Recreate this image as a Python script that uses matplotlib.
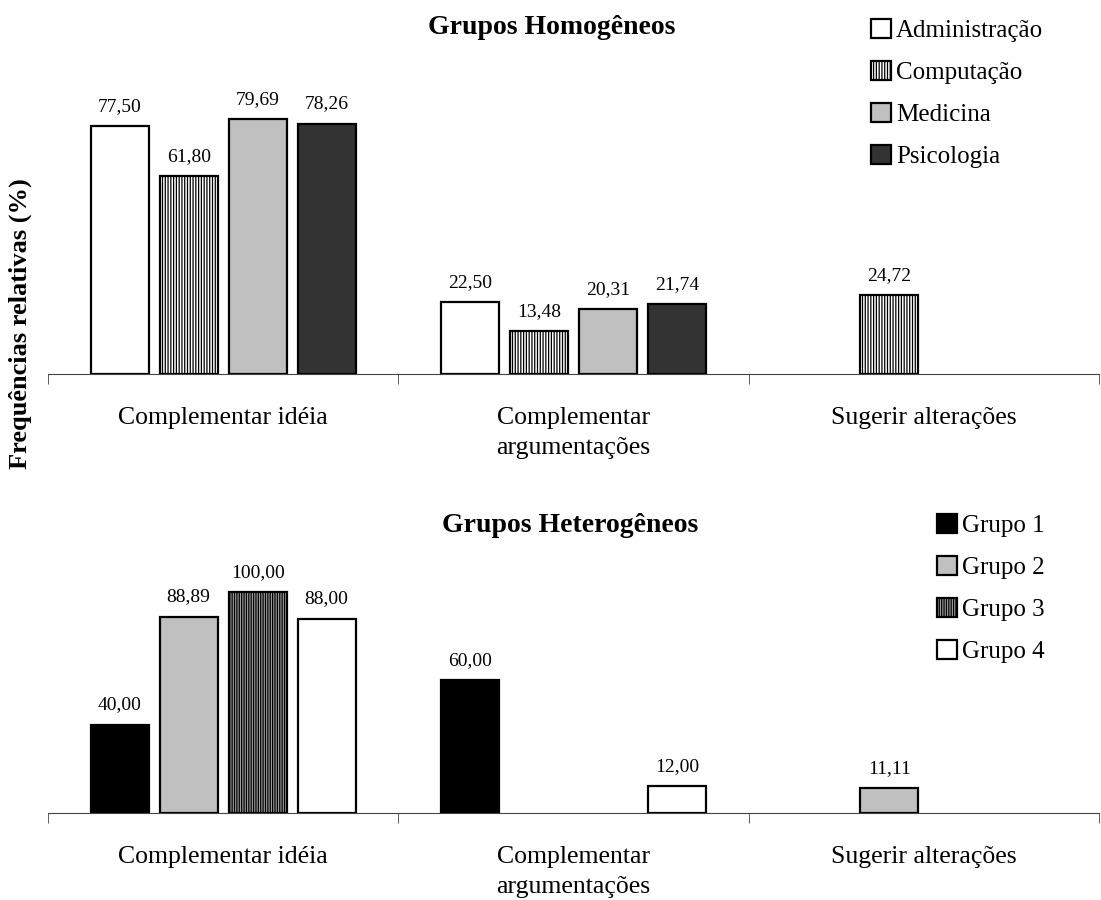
import numpy as np
import matplotlib.pyplot as plt

plt.rcParams['font.family'] = ['Liberation Serif', 'DejaVu Serif']
plt.rcParams['hatch.linewidth'] = 0.9

categorias = ['Complementar idéia', 'Complementar\nargumentações', 'Sugerir alterações']

# grupos homogeneos (por curso)
cursos = ['Administração', 'Computação', 'Medicina', 'Psicologia']
homog = [[77.50, 22.50, 0.0],
         [61.80, 13.48, 24.72],
         [79.69, 20.31, 0.0],
         [78.26, 21.74, 0.0]]

# grupos heterogeneos
grupos = ['Grupo 1', 'Grupo 2', 'Grupo 3', 'Grupo 4']
heterog = [[40.00, 60.00, 0.0],
           [88.89, 0.0, 11.11],
           [100.00, 0.0, 0.0],
           [88.00, 12.00, 0.0]]

estilo_homog = [dict(facecolor='white'),
                dict(facecolor='white', hatch='||||||'),
                dict(facecolor='#c0c0c0'),
                dict(facecolor='#333333')]
estilo_heterog = [dict(facecolor='black'),
                  dict(facecolor='#c0c0c0'),
                  dict(facecolor='#a0a0a0', hatch='|||||||'),
                  dict(facecolor='white')]


def painel(ax, series, nomes, estilos, ymax):
    x = np.arange(len(categorias))
    largura = 0.165
    passo = 0.197
    handles = []
    for i, (vals, est) in enumerate(zip(series, estilos)):
        vals = np.array(vals)
        pos = x + (i - 1.5) * passo
        ok = vals > 0
        bars = ax.bar(pos[ok], vals[ok], largura, edgecolor='black',
                      linewidth=1.6, **est)
        handles.append(bars)
        for b, v in zip(bars, vals[ok]):
            ax.annotate(('%.2f' % v).replace('.', ','),
                        (b.get_x() + b.get_width() / 2, v),
                        xytext=(0, 8), textcoords='offset points',
                        ha='center', va='bottom', fontsize=14)
    ax.set_xlim(-0.5, len(categorias) - 0.5)
    ax.set_ylim(0, ymax)
    ax.set_yticks([])
    for s in ['left', 'right', 'top']:
        ax.spines[s].set_visible(False)
    ax.spines['bottom'].set_color('#444444')
    ax.set_xticks(x)
    ax.set_xticklabels(categorias, fontsize=18.5, linespacing=1.45)
    ax.set_xticks(np.arange(len(categorias) + 1) - 0.5, minor=True)
    ax.tick_params(axis='x', which='major', length=0, pad=24)
    ax.tick_params(axis='x', which='minor', length=7, color='#444444',
                   direction='out')
    return handles


fig = plt.figure(figsize=(11.01, 9.0), dpi=100)

ax1 = fig.add_axes([48 / 1101, 0.5844, 1 - 48 / 1101 - 0.002, 0.3556])
h1 = painel(ax1, homog, cursos, estilo_homog, 100)

ax2 = fig.add_axes([48 / 1101, 0.0967, 1 - 48 / 1101 - 0.002, 0.2822])
h2 = painel(ax2, heterog, grupos, estilo_heterog, 115)

fig.text(0.501, 0.969, 'Grupos Homogêneos', ha='center', va='center',
         fontsize=20, fontweight='bold')
fig.text(0.518, 0.416, 'Grupos Heterogêneos', ha='center', va='center',
         fontsize=20, fontweight='bold')
fig.text(0.018, 0.64, 'Frequências relativas (%)', rotation=90,
         ha='center', va='center', fontsize=19, fontweight='bold')

leg_kw = dict(frameon=False, fontsize=18, handlelength=0.8, handleheight=0.8,
              handletextpad=0.2, labelspacing=0.75, borderpad=0,
              borderaxespad=0, loc='upper left')
fig.legend(h1, cursos, bbox_to_anchor=(871 / 1101, 1 - 19 / 900), **leg_kw)
fig.legend(h2, grupos, bbox_to_anchor=(937 / 1101, 1 - 514 / 900), **leg_kw)

fig.savefig('out.png', dpi=100)
